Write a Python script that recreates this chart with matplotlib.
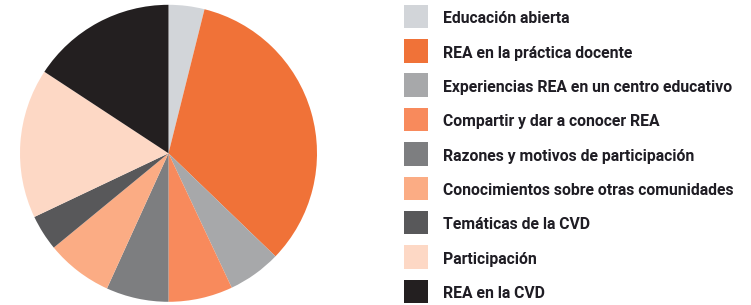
import matplotlib
matplotlib.use("Agg")
import matplotlib.pyplot as plt
from matplotlib.patches import Rectangle

categories = [
    "Educación abierta",
    "REA en la práctica docente",
    "Experiencias REA en un centro educativo",
    "Compartir y dar a conocer REA",
    "Razones y motivos de participación",
    "Conocimientos sobre otras comunidades",
    "Temáticas de la CVD",
    "Participación",
    "REA en la CVD",
]
values = [3.9, 33.3, 5.8, 7.0, 6.8, 7.25, 3.9, 16.3, 15.75]
colors = ["#d2d5d9", "#f07238", "#a7a8aa", "#f88a5c", "#7d7e80",
          "#fbac84", "#58585a", "#fdd8c5", "#231f20"]

W, H = 751, 305
fig = plt.figure(figsize=(W / 100, H / 100), dpi=100)

cx, cy, r = 168.5, 153.3, 148.5
ax = fig.add_axes([(cx - r) / W, (H - cy - r) / H, 2 * r / W, 2 * r / H])
ax.pie(values, colors=colors, startangle=90, counterclock=False, radius=1,
       wedgeprops=dict(linewidth=0))
ax.set_xlim(-1, 1)
ax.set_ylim(-1, 1)
ax.set_aspect("equal")
ax.axis("off")

# legend
x0, sq = 404, 23.5
sq_first, step = 16.5, 34.35
base_first = 23.3
for i, (lab, col) in enumerate(zip(categories, colors)):
    yc = sq_first + i * step
    fig.patches.append(Rectangle((x0 / W, (H - yc - sq / 2) / H), 24 / W, sq / H,
                                 transform=fig.transFigure, facecolor=col,
                                 edgecolor="none"))
    yb = base_first + i * step
    fig.text(443 / W, (H - yb) / H, lab, ha="left", va="baseline",
             fontsize=11.35, fontweight="bold", color="#1f1d24",
             family=["Roboto", "DejaVu Sans"])

fig.savefig("out.png", dpi=100)
